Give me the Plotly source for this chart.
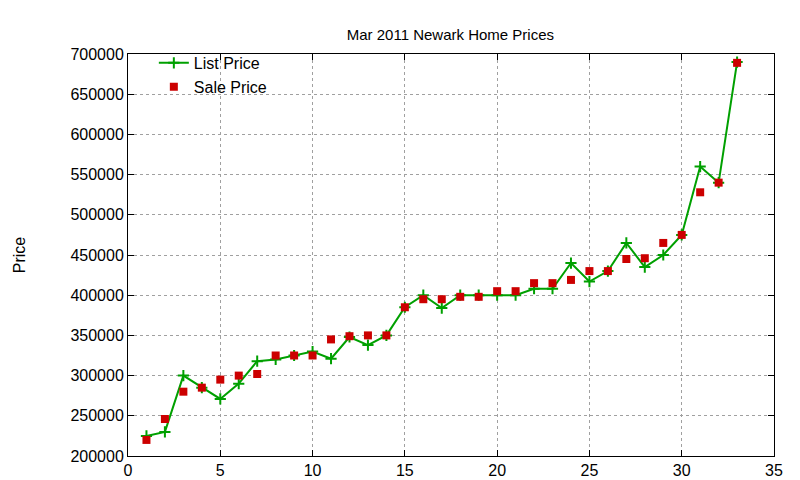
import plotly.graph_objects as go

# listing index and prices
idx = list(range(1, 34))
list_price = [225000, 230000, 300000, 285000, 271000, 290000, 318000, 320000, 325000, 330000,
              321000, 348000, 338000, 350000, 385000, 400000, 384000, 400000, 400000, 400000,
              400000, 408000, 408000, 440000, 417000, 430000, 465000, 435000, 450000, 475000,
              560000, 540000, 690000]
sale_price = [220000, 246000, 280000, 285000, 295000, 300000, 302000, 325000, 325000, 325000,
              345000, 349000, 350000, 350000, 385000, 395000, 395000, 398000, 398000, 405000,
              405000, 415000, 415000, 419000, 430000, 430000, 445000, 446000, 465000, 475000,
              528000, 540000, 689000]

fig = go.Figure()
fig.add_trace(go.Scatter(x=idx, y=list_price, mode="lines+markers", name="List Price",
                         line=dict(color="#00a000", width=2),
                         marker=dict(symbol="cross-thin", size=8, line=dict(color="#00a000", width=2))))
fig.add_trace(go.Scatter(x=idx, y=sale_price, mode="markers", name="Sale Price",
                         marker=dict(symbol="square", size=8, color="#cc0000")))

axis = dict(showline=True, mirror="ticks", linecolor="black", linewidth=1, ticks="inside",
            ticklen=6, tickcolor="black", showgrid=True, gridcolor="#a0a0a0", griddash="dot",
            gridwidth=1, zeroline=False, automargin=False,
            tickfont=dict(family="Liberation Sans", size=16, color="black"))
fig.update_xaxes(range=[0, 35], dtick=5, **axis)
fig.update_yaxes(range=[200000, 700000], dtick=50000, tickformat="d",
                 title=dict(text="Price", standoff=40,
                            font=dict(family="Liberation Sans", size=16, color="black")), **axis)

fig.update_layout(
    width=800, height=480, plot_bgcolor="white", paper_bgcolor="white",
    margin=dict(l=120, r=34, t=46, b=32),
    title=dict(text="Mar 2011 Newark Home Prices", x=0.553, xanchor="center", y=0.955,
               font=dict(family="Liberation Sans", size=15, color="black")),
    legend=dict(x=0.04, y=1.02, xanchor="left", yanchor="top", bgcolor="rgba(0,0,0,0)",
                font=dict(family="Liberation Sans", size=16, color="black"), tracegroupgap=0),
    showlegend=True,
)

fig.write_html("out.html")
